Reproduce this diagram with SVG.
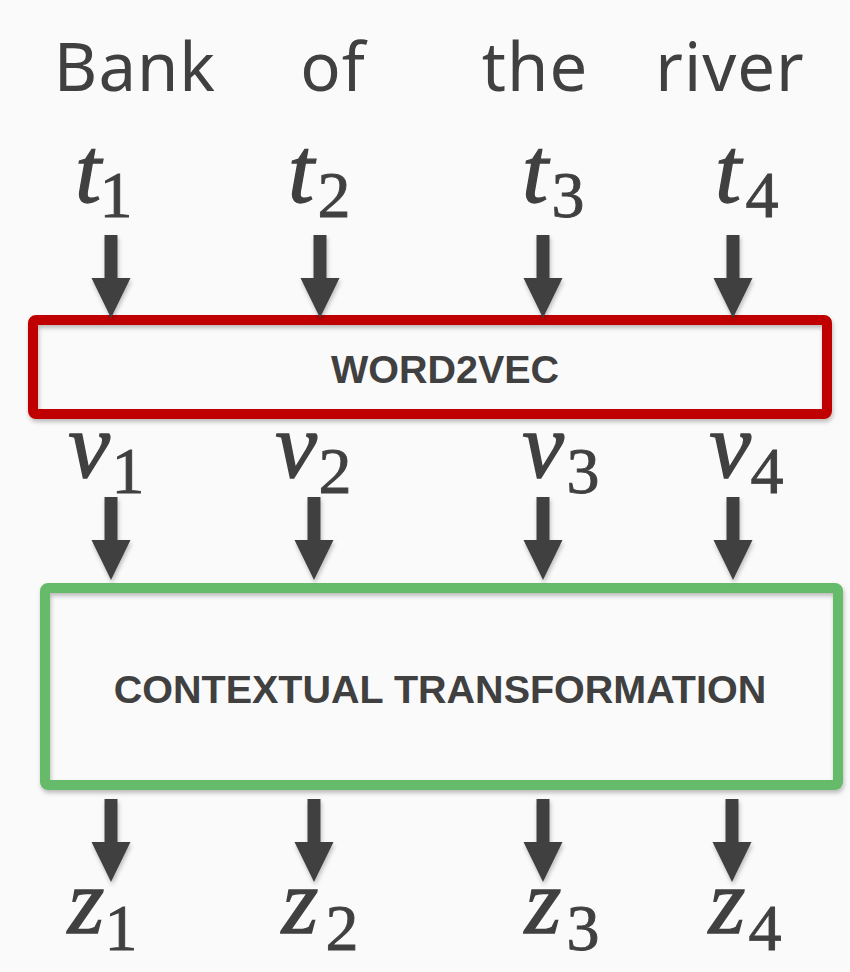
<svg xmlns="http://www.w3.org/2000/svg" width="850" height="972" viewBox="0 0 850 972">
<defs>
<style>
.word{font-family:"Noto Sans","Liberation Sans",sans-serif;font-size:67px;fill:#404040;text-anchor:middle;letter-spacing:1px}
.var{font-family:"Liberation Serif","DejaVu Serif",serif;font-style:italic;font-size:94px;fill:#404040;stroke:#404040;stroke-width:1.3;text-anchor:middle}
.sub{font-family:"Liberation Serif","DejaVu Serif",serif;font-size:66px;fill:#404040;stroke:#404040;stroke-width:0.9;text-anchor:middle}
.lbl{font-family:"Liberation Sans",Arial,sans-serif;font-weight:bold;font-size:39.5px;fill:#404040;text-anchor:middle}
.arrow{fill:#404040}
</style>
<filter id="sh" x="-10%" y="-10%" width="120%" height="130%">
<feDropShadow dx="1" dy="3" stdDeviation="2" flood-color="#000" flood-opacity="0.25"/>
</filter>
<path id="arr" d="M-6.5,0 H6.5 V43 H19.5 L0,83 L-19.5,43 H-6.5 Z"/>
</defs>
<rect width="850" height="972" fill="#fafafa"/>

<g id="words">
<text class="word" x="135" y="91">Bank</text>
<text class="word" x="333" y="91">of</text>
<text class="word" x="535" y="91">the</text>
<text class="word" x="730" y="91">river</text>
</g>

<g id="tokens">
<text class="var" x="88" y="202">t</text><text class="sub" x="116" y="217">1</text>
<text class="var" x="301" y="202">t</text><text class="sub" x="334" y="217">2</text>
<text class="var" x="535" y="202">t</text><text class="sub" x="568" y="217">3</text>
<text class="var" x="728" y="202">t</text><text class="sub" x="762" y="217">4</text>
</g>

<g id="word2vec">
<rect x="33" y="320" width="794" height="94" rx="3" fill="none" stroke="#c00000" stroke-width="10" filter="url(#sh)"/>
<text class="lbl" x="445" y="383">WORD2VEC</text>
</g>

<g id="vectors">
<text class="var" x="89" y="477">v</text><text class="sub" x="128" y="493">1</text>
<text class="var" x="296" y="477">v</text><text class="sub" x="335" y="493">2</text>
<text class="var" x="543" y="477">v</text><text class="sub" x="583" y="493">3</text>
<text class="var" x="730" y="477">v</text><text class="sub" x="767" y="493">4</text>
</g>

<g id="contextual">
<rect x="45" y="588" width="793" height="197" rx="3" fill="none" stroke="#66bb6a" stroke-width="10" filter="url(#sh)"/>
<text class="lbl" x="440" y="703">CONTEXTUAL TRANSFORMATION</text>
</g>

<g id="outputs">
<text class="var" x="86" y="933">z</text><text class="sub" x="121" y="950">1</text>
<text class="var" x="300" y="933">z</text><text class="sub" x="342" y="950">2</text>
<text class="var" x="543" y="933">z</text><text class="sub" x="583" y="950">3</text>
<text class="var" x="727" y="933">z</text><text class="sub" x="765" y="950">4</text>
</g>

<g id="connectors" class="arrow" filter="url(#sh)">
<use href="#arr" x="111" y="235"/>
<use href="#arr" x="320" y="235"/>
<use href="#arr" x="543" y="235"/>
<use href="#arr" x="733" y="235"/>
<use href="#arr" x="111" y="497"/>
<use href="#arr" x="314" y="497"/>
<use href="#arr" x="543" y="497"/>
<use href="#arr" x="733" y="497"/>
<use href="#arr" x="111" y="799"/>
<use href="#arr" x="314" y="799"/>
<use href="#arr" x="543" y="799"/>
<use href="#arr" x="732" y="799"/>
</g>
</svg>
